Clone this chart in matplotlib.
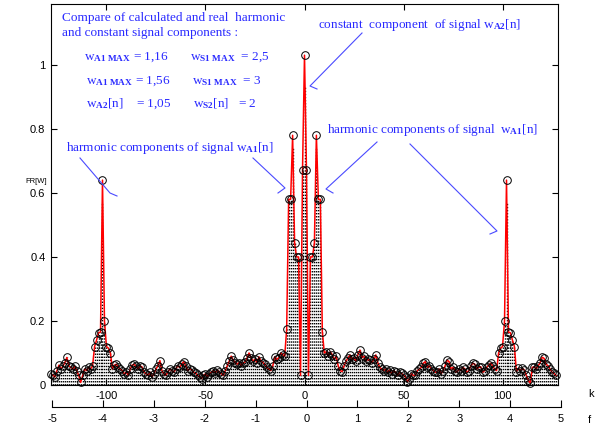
import numpy as np
import matplotlib
matplotlib.use('Agg')
import matplotlib.pyplot as plt
from matplotlib.lines import Line2D

# spectrum, k = -128 .. 127
calc_neg = [0.035, 0.031, 0.025, 0.045, 0.062, 0.05, 0.058, 0.07, 0.086, 0.06,
            0.055, 0.05, 0.058, 0.045, 0.03, 0.008, 0.03, 0.05, 0.045, 0.055,
            0.05, 0.06, 0.12, 0.14, 0.163, 0.165, 0.64, 0.2, 0.12, 0.115,
            0.1, 0.05, 0.062, 0.065, 0.055, 0.05, 0.045, 0.035, 0.04, 0.03,
            0.05, 0.062, 0.065, 0.058, 0.05, 0.06, 0.056, 0.04, 0.035, 0.03,
            0.04, 0.025, 0.035, 0.05, 0.06, 0.076, 0.045, 0.035, 0.03, 0.04,
            0.05, 0.045, 0.04, 0.05, 0.06, 0.055, 0.065, 0.073, 0.06, 0.045,
            0.05, 0.048, 0.04, 0.038, 0.03, 0.025, 0.02, 0.03, 0.035, 0.026,
            0.035, 0.04, 0.045, 0.038, 0.047, 0.04, 0.035, 0.03, 0.045, 0.06,
            0.075, 0.09, 0.078, 0.07, 0.065, 0.07, 0.06, 0.068, 0.072, 0.085,
            0.1, 0.085, 0.075, 0.08, 0.07, 0.088, 0.075, 0.07, 0.065, 0.055,
            0.05, 0.045, 0.06, 0.088, 0.08, 0.085, 0.1, 0.095, 0.09, 0.175,
            0.58, 0.58, 0.78, 0.443, 0.40, 0.40, 0.03, 0.67]
calc_zero = [1.03]
calc_pos = [0.67, 0.03, 0.40, 0.40, 0.443, 0.78, 0.58, 0.58, 0.167, 0.1,
            0.104, 0.09, 0.104, 0.095, 0.08, 0.09, 0.06, 0.045, 0.042, 0.06,
            0.075, 0.085, 0.094, 0.08, 0.085, 0.075, 0.095, 0.109, 0.085, 0.09,
            0.075, 0.08, 0.078, 0.07, 0.08, 0.094, 0.07, 0.055, 0.05, 0.045,
            0.05, 0.04, 0.047, 0.035, 0.045, 0.04, 0.03, 0.04, 0.036, 0.031,
            0.025, 0.01, 0.02, 0.035, 0.03, 0.03, 0.045, 0.05, 0.055, 0.068,
            0.073, 0.055, 0.06, 0.05, 0.045, 0.04, 0.04, 0.05, 0.035, 0.045,
            0.06, 0.078, 0.073, 0.05, 0.055, 0.045, 0.04, 0.05, 0.045, 0.055,
            0.05, 0.04, 0.045, 0.06, 0.068, 0.065, 0.05, 0.055, 0.057, 0.04,
            0.045, 0.055, 0.062, 0.068, 0.06, 0.05, 0.045, 0.1, 0.115, 0.12,
            0.2, 0.64, 0.165, 0.163, 0.14, 0.12, 0.042, 0.052, 0.045, 0.052,
            0.047, 0.03, 0.016, 0.005, 0.055, 0.057, 0.05, 0.06, 0.07, 0.087,
            0.083, 0.065, 0.06, 0.05, 0.04, 0.036, 0.03]

# dotted stems are lower than the circles at the big peaks
stem_peak_k = [-102, -6, 0, 6, 102]
stem_peak_val = [0.57, 0.74, 0.93, 0.74, 0.57]

k_ticks = [-100, -50, 0, 50, 100]
y_ticks = [0, 0.2, 0.4, 0.6, 0.8, 1]
f_ticks = [-5, -4, -3, -2, -1, 0, 1, 2, 3, 4, 5]

calc = np.array(calc_neg + calc_zero + calc_pos)
k = np.arange(len(calc)) - len(calc_neg)
stem_h = calc.copy()
for kk, v in zip(stem_peak_k, stem_peak_val):
    stem_h[k == kk] = v

plt.rcParams['font.family'] = 'Liberation Sans'
plt.rcParams['axes.unicode_minus'] = False
plt.rcParams['mathtext.fontset'] = 'custom'
plt.rcParams['mathtext.rm'] = 'Liberation Serif'
plt.rcParams['mathtext.bf'] = 'Liberation Serif:bold'
plt.rcParams['mathtext.it'] = 'Liberation Serif:italic'

W, H = 599, 429
fig = plt.figure(figsize=(W / 100, H / 100), dpi=100)
ax = fig.add_axes([51 / W, 1 - 385 / H, 507 / W, 381 / H])

ax.vlines(k, 0, stem_h, colors='k', linestyles=(0, (1, 1.2)), lw=1.0)
ax.plot(k, calc, '-', color='red', lw=1.1)
ax.plot(k, calc, 'o', mfc='none', mec='k', ms=5.5, mew=0.7, clip_on=False)

ax.set_xlim(-128, 128)
ax.set_ylim(0, 1.19)
ax.set_xticks(k_ticks)
ax.set_yticks(y_ticks)
ax.set_yticklabels(['0', '0.2', '0.4', '0.6', '0.8', '1'])
ax.tick_params(direction='in', top=True, right=True, length=4, width=0.8,
               labelsize=8, pad=4)
for s in ax.spines.values():
    s.set_linewidth(0.8)

# frequency axis under the plot
fax = fig.add_axes([52 / W, 1 - 407 / H, 509 / W, 0.001])
fax.set_xlim(-5, 5)
fax.set_xticks(f_ticks)
fax.set_yticks([])
for side in ['top', 'left', 'right']:
    fax.spines[side].set_visible(False)
fax.spines['bottom'].set_linewidth(0.8)
fax.tick_params(axis='x', direction='in', length=5, width=0.8, labelsize=8, pad=5)
fax.patch.set_visible(False)

def px(x, y):
    return x / W, 1 - y / H

fig.text(*px(588, 394), 'k', fontsize=8, va='center')
fig.text(*px(588, 420), 'f', fontsize=8, va='center')
fig.text(*px(25, 181), 'FR[W]', fontsize=5.5, va='center')

blue = '#2a2aff'
tk = dict(color=blue, fontsize=9.5, family='Liberation Serif', va='center')
fig.text(*px(62, 18), 'Compare of calculated and real  harmonic', **tk)
fig.text(*px(62, 33), 'and constant signal components :', **tk)
fig.text(*px(84, 57), r'$\mathrm{w}_{\mathbf{A1\ MAX}}$ = 1,16', **tk)
fig.text(*px(190, 57), r'$\mathrm{w}_{\mathbf{S1\ MAX}}$  = 2,5', **tk)
fig.text(*px(86, 81), r'$\mathrm{w}_{\mathbf{A1\ MAX}}$ = 1,56', **tk)
fig.text(*px(192, 81), r'$\mathrm{w}_{\mathbf{S1\ MAX}}$  = 3', **tk)
fig.text(*px(86, 104), r'$\mathrm{w}_{\mathbf{A2}}$[n]    = 1,05', **tk)
fig.text(*px(193, 104), r'$\mathrm{w}_{\mathbf{S2}}$[n]   = 2', **tk)
fig.text(*px(318, 25), r'constant  component  of signal $\mathrm{w}_{\mathbf{A2}}$[n]', **tk)
fig.text(*px(327, 130), r'harmonic components of signal  $\mathrm{w}_{\mathbf{A1}}$[n]', **tk)
fig.text(*px(66, 148), r'harmonic components of signal $\mathrm{w}_{\mathbf{A1}}$[n]', **tk)

# leader lines with the little hook at the end
leaders = [
    [(362, 33), (310, 86), (317, 89)],
    [(377, 142), (326, 189), (333, 193)],
    [(253, 158), (285, 188), (278, 193)],
    [(80, 158), (110, 193), (117, 196)],
    [(410, 144), (497, 231), (490, 234)],
]
for pts in leaders:
    xs = [p[0] / W for p in pts]
    ys = [1 - p[1] / H for p in pts]
    fig.add_artist(Line2D(xs, ys, color='#4a4aff', lw=0.8))

fig.savefig('out.png', dpi=100)
